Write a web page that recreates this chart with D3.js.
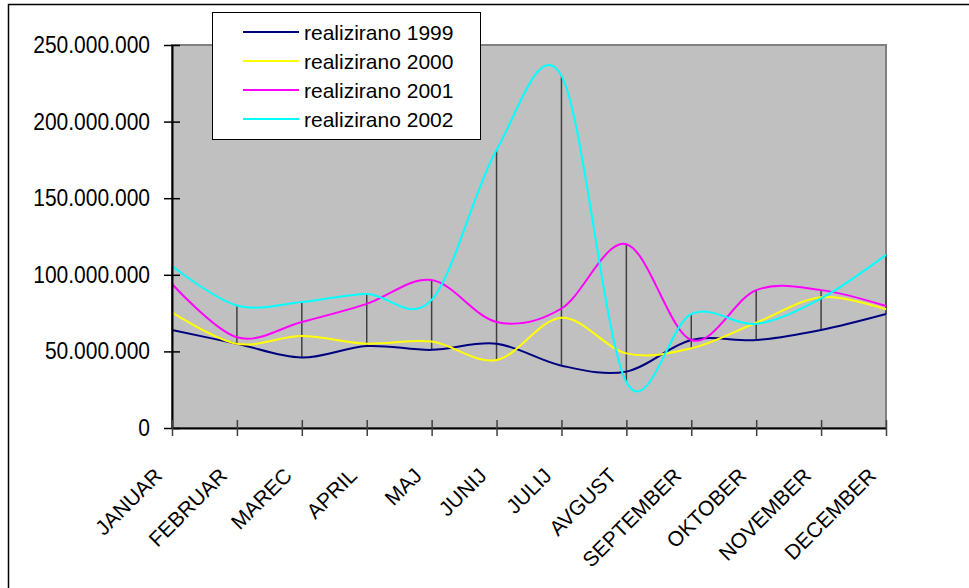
<!DOCTYPE html>
<html>
<head>
<meta charset="utf-8">
<script src="https://d3js.org/d3.v7.min.js"></script>
<style>
  body { margin: 0; background: #fff; }
  svg { display: block; font-family: "Liberation Sans", Arial, sans-serif; }
</style>
</head>
<body>
<div id="chart"></div>
<script>
// monthly values
var months = ["JANUAR", "FEBRUAR", "MAREC", "APRIL", "MAJ", "JUNIJ", "JULIJ",
	"AVGUST", "SEPTEMBER", "OKTOBER", "NOVEMBER", "DECEMBER"];
var r1999 = [64000000, 55000000, 46000000, 53500000, 51000000, 55000000,
	40700000, 36800000, 57400000, 57400000, 64000000, 74400000];
var r2000 = [75500000, 55000000, 60000000, 55000000, 56400000, 44400000,
	72000000, 48700000, 52000000, 68700000, 85300000, 77500000];
var r2001 = [94000000, 59200000, 69200000, 81000000, 96600000, 69200000,
	78000000, 120000000, 57400000, 90000000, 90000000, 79600000];
var r2002 = [105700000, 80000000, 82200000, 87500000, 83600000, 181500000,
	230000000, 30000000, 74400000, 68000000, 84600000, 113000000];
var seriesNames = ["realizirano 1999", "realizirano 2000", "realizirano 2001", "realizirano 2002"];
var colors = ["#000080", "#ffff00", "#ff00ff", "#00ffff"];
var yTicks = [0, 50000000, 100000000, 150000000, 200000000, 250000000];

(function() {
	var width = 969, height = 588;
	var pLeft = 172, pRight = 886, pTop = 45, pBottom = 428;

	var allSeries = [r1999, r2000, r2001, r2002];

	var svg = d3.select("#chart").append("svg")
		.attr("width", width)
		.attr("height", height);

	// outer chart frame
	svg.append("rect")
		.attr("x", 8.5).attr("y", 4.5)
		.attr("width", 1100).attr("height", 1100)
		.attr("fill", "#fff")
		.attr("stroke", "#000")
		.attr("stroke-width", 1.5);

	var x = d3.scalePoint().domain(months).range([pLeft, pRight]);
	var y = d3.scaleLinear().domain([0, 250000000]).range([pBottom, pTop]);

	var loc = d3.formatLocale({decimal: ",", thousands: ".", grouping: [3], currency: ["", ""]});
	var fmt = loc.format(",d");

	// plot area
	svg.append("rect")
		.attr("x", pLeft).attr("y", pTop)
		.attr("width", pRight - pLeft).attr("height", pBottom - pTop)
		.attr("fill", "#c0c0c0")
		.attr("stroke", "#808080")
		.attr("stroke-width", 2);

	// high-low lines
	svg.append("g").selectAll("line")
		.data(months)
		.enter()
		.append("line")
		.attr("x1", function(d) { return x(d); })
		.attr("x2", function(d) { return x(d); })
		.attr("y1", function(d, i) { return y(d3.max(allSeries, function(s) { return s[i]; })); })
		.attr("y2", function(d, i) { return y(d3.min(allSeries, function(s) { return s[i]; })); })
		.attr("stroke", "#404040")
		.attr("stroke-width", 1.5);

	// series
	var line = d3.line()
		.x(function(d, i) { return x(months[i]); })
		.y(function(d) { return y(d); })
		.curve(d3.curveCatmullRom.alpha(0));

	svg.append("g").selectAll("path")
		.data(allSeries)
		.enter()
		.append("path")
		.attr("d", line)
		.attr("fill", "none")
		.attr("stroke", function(d, i) { return colors[i]; })
		.attr("stroke-width", 2);

	// y axis
	var yAxis = d3.axisLeft(y)
		.tickValues(yTicks)
		.tickFormat(fmt)
		.tickSizeInner(8)
		.tickSizeOuter(0)
		.tickPadding(14);

	var gy = svg.append("g")
		.attr("transform", "translate(" + pLeft + ",0)")
		.call(yAxis);
	gy.select(".domain").attr("stroke", "#000").attr("stroke-width", 2);
	gy.selectAll(".tick line").attr("x2", -8).attr("x1", 8).attr("stroke", "#000").attr("stroke-width", 1.5);
	gy.selectAll(".tick text")
		.attr("x", -22)
		.attr("font-size", 21)
		.attr("fill", "#000")
		.attr("font-family", "Liberation Sans, Arial, sans-serif")
		.each(function() {
			// taller but narrow labels, like the original
			var w = this.getComputedTextLength();
			d3.select(this)
				.attr("font-size", 23.5)
				.attr("textLength", w)
				.attr("lengthAdjust", "spacingAndGlyphs");
		});

	// x axis
	var xAxis = d3.axisBottom(x)
		.tickSizeInner(8)
		.tickSizeOuter(0)
		.tickPadding(10);

	var gx = svg.append("g")
		.attr("transform", "translate(0," + pBottom + ")")
		.call(xAxis);
	gx.select(".domain").attr("stroke", "#000").attr("stroke-width", 2);
	gx.selectAll(".tick line").attr("y1", -8).attr("y2", 8).attr("stroke", "#404040").attr("stroke-width", 1.5);
	gx.selectAll(".tick text")
		.attr("font-size", 21)
		.attr("fill", "#000")
		.attr("font-family", "Liberation Sans, Arial, sans-serif")
		.attr("text-anchor", "end")
		.attr("dy", null)
		.attr("y", null)
		.attr("transform", "translate(-9,49) rotate(-45)");

	// legend
	var legend = svg.append("g");
	legend.append("rect")
		.attr("x", 212.5).attr("y", 12.5)
		.attr("width", 268).attr("height", 127)
		.attr("fill", "#fff")
		.attr("stroke", "#000")
		.attr("stroke-width", 1);

	var items = legend.selectAll("g.item")
		.data(seriesNames)
		.enter()
		.append("g")
		.attr("class", "item")
		.attr("transform", function(d, i) { return "translate(0," + (32 + i * 29) + ")"; });

	items.append("line")
		.attr("x1", 243).attr("x2", 299)
		.attr("stroke", function(d, i) { return colors[i]; })
		.attr("stroke-width", 2);

	items.append("text")
		.attr("x", 304)
		.attr("dy", "0.36em")
		.attr("font-size", 21)
		.text(function(d) { return d; });
})();
</script>
</body>
</html>
